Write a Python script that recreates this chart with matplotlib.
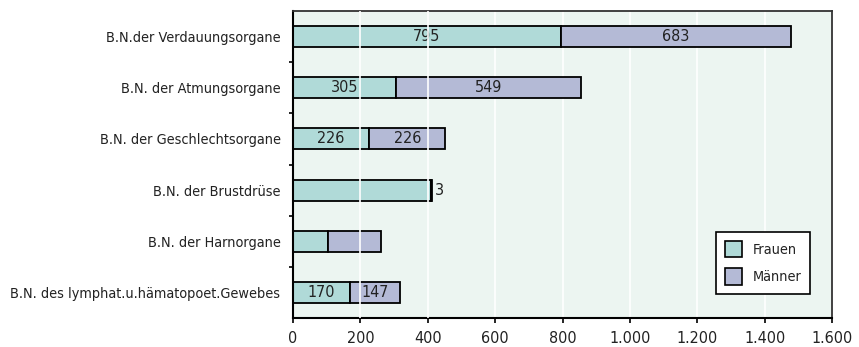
import matplotlib.pyplot as plt
from matplotlib.patches import Patch
from matplotlib.ticker import FixedLocator, FuncFormatter

# Bösartige Neubildungen nach Lokalisation, Fälle
categories = [
    "B.N.der Verdauungsorgane",
    "B.N. der Atmungsorgane",
    "B.N. der Geschlechtsorgane",
    "B.N. der Brustdrüse",
    "B.N. der Harnorgane",
    "B.N. des lymphat.u.hämatopoet.Gewebes",
]
frauen = [795, 305, 226, 411, 105, 170]
maenner = [683, 549, 226, 3, 155, 147]
# which values get printed on the bars
label_frauen = [True, True, True, False, False, True]
label_maenner = [True, True, True, True, False, True]

x_ticks = [0, 200, 400, 600, 800, 1000, 1200, 1400, 1600]

c_frauen = "#b0dad8"
c_maenner = "#b4bad6"
bg = "#ecf5f1"

plt.rcParams["font.family"] = ["DejaVu Sans"]
plt.rcParams["font.stretch"] = "condensed"
fs = 10.4      # category labels, legend
fs_num = 11.5  # numbers

fig = plt.figure(figsize=(8.59, 3.47), dpi=100)
ax = fig.add_axes([293 / 859, 1 - 318 / 347, (832 - 293) / 859, (318 - 11) / 347])
ax.set_facecolor(bg)

y = list(range(len(categories)))
h = 0.41
ax.barh(y, frauen, height=h, color=c_frauen, edgecolor="black", linewidth=1.3, zorder=2)
ax.barh(y, maenner, height=h, left=frauen, color=c_maenner, edgecolor="black",
        linewidth=1.3, zorder=2)

for i in y:
    if label_frauen[i]:
        ax.text(frauen[i] / 2, i, str(frauen[i]), ha="center", va="center",
                fontsize=fs_num, color="#222222", zorder=3)
    if label_maenner[i]:
        if maenner[i] < 30:
            ax.text(frauen[i] + maenner[i] + 8, i, str(maenner[i]), ha="left",
                    va="center", fontsize=fs_num, color="#222222", zorder=3)
        else:
            ax.text(frauen[i] + maenner[i] / 2, i, str(maenner[i]), ha="center",
                    va="center", fontsize=fs_num, color="#222222", zorder=3)

ax.set_xlim(0, 1600)
ax.set_ylim(len(categories) - 0.5, -0.5)

# white gridlines; the first two run over the bars
ax.set_axisbelow(True)
for xv in x_ticks[1:-1]:
    ax.axvline(xv, color="white", linewidth=1.2, zorder=4 if xv <= 400 else 1)

ax.xaxis.set_major_locator(FixedLocator(x_ticks))
ax.xaxis.set_major_formatter(FuncFormatter(lambda v, p: f"{int(v):,}".replace(",", ".")))
ax.tick_params(axis="x", length=3.5, width=1.2, pad=6, labelsize=fs_num, labelcolor="#222222")

ax.set_yticks(y)
ax.set_yticklabels(categories)
ax.set_yticks([i + 0.5 for i in y[:-1]], minor=True)
ax.tick_params(axis="y", which="major", length=0, pad=9, labelsize=fs, labelcolor="#222222")
ax.tick_params(axis="y", which="minor", length=3, width=1.2)

for side in ["left", "bottom"]:
    ax.spines[side].set_color("black")
    ax.spines[side].set_linewidth(1.5)
for side in ["top", "right"]:
    ax.spines[side].set_color("#333333")
    ax.spines[side].set_linewidth(1.3)

handles = [
    Patch(facecolor=c_frauen, edgecolor="black", linewidth=1.2, label="Frauen"),
    Patch(facecolor=c_maenner, edgecolor="black", linewidth=1.2, label="Männer"),
]
leg = ax.legend(handles=handles, loc="upper right", bbox_to_anchor=(0.959, 0.28),
                borderaxespad=0, fontsize=fs, frameon=True, fancybox=False, framealpha=1,
                edgecolor="black", handlelength=1.2, handleheight=1.4,
                handletextpad=0.7, labelspacing=0.75, borderpad=0.6)
leg.get_frame().set_linewidth(1.2)
for t in leg.get_texts():
    t.set_color("#222222")

fig.savefig("out.png", dpi=100, facecolor="white")
